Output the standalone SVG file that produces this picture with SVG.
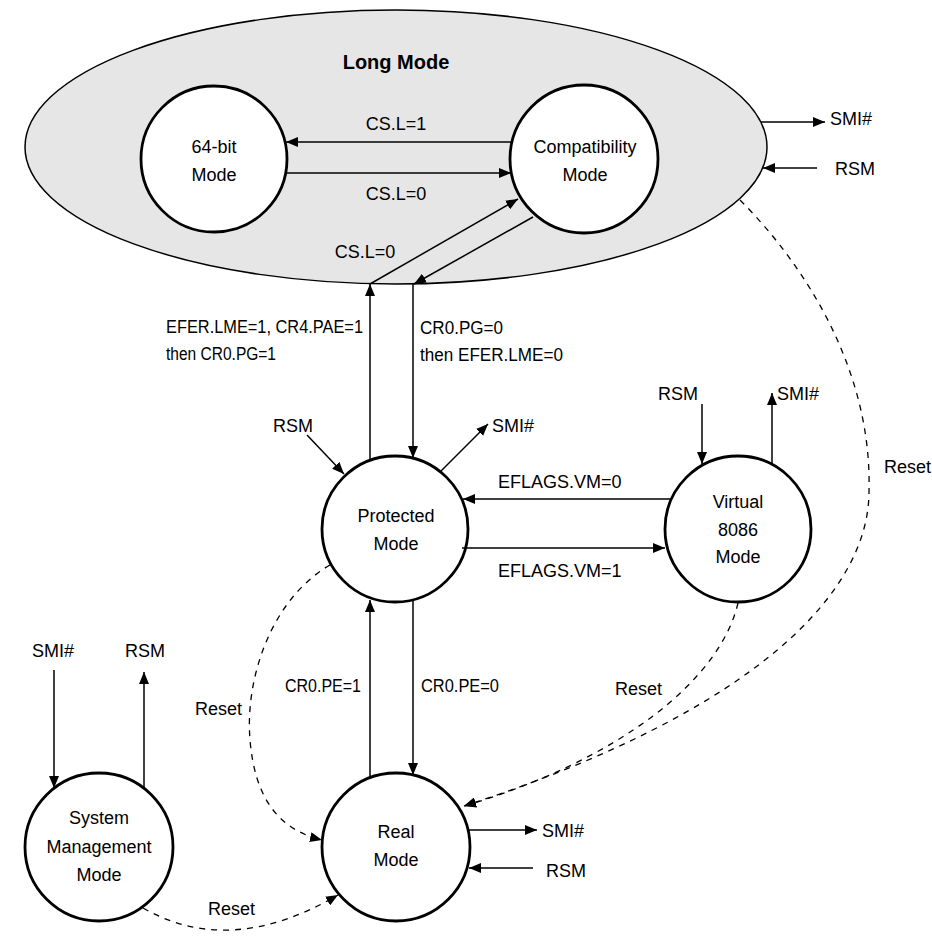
<svg xmlns="http://www.w3.org/2000/svg" width="932" height="940" viewBox="0 0 932 940">
<style>
text{font-family:"Liberation Sans",Arial,sans-serif;font-size:18px;fill:#000}
.c{text-anchor:middle}
.title{font-weight:bold;font-size:20px}
.node{fill:#fff;stroke:#000;stroke-width:2.8}
.ln{fill:none;stroke:#000;stroke-width:1.5}
.ds{fill:none;stroke:#000;stroke-width:1.3;stroke-dasharray:6 6}
</style>
<defs>
<marker id="ah" viewBox="0 0 12 10" refX="12" refY="5" markerWidth="12" markerHeight="10" markerUnits="userSpaceOnUse" orient="auto">
<path d="M0,0 L12,5 L0,10 z" fill="#000"/>
</marker>
</defs>
<rect width="932" height="940" fill="#fff"/>

<g id="long-mode">
<ellipse cx="396" cy="147" rx="371" ry="137" fill="#e6e6e6" stroke="#000" stroke-width="1.5"/>
<text class="c title" x="396" y="69">Long Mode</text>
</g>

<g id="mode-64bit">
<circle class="node" cx="214" cy="159" r="73"/>
<text class="c" x="214" y="153">64-bit</text>
<text class="c" x="214" y="181">Mode</text>
</g>

<g id="compat-mode">
<circle class="node" cx="584" cy="159" r="74"/>
<text class="c" x="585" y="153">Compatibility</text>
<text class="c" x="585" y="181">Mode</text>
</g>

<g id="protected-mode">
<circle class="node" cx="395" cy="529" r="73"/>
<text class="c" x="396" y="522">Protected</text>
<text class="c" x="396" y="550">Mode</text>
</g>

<g id="virtual-8086-mode">
<circle class="node" cx="738" cy="529" r="73"/>
<text class="c" x="738" y="508">Virtual</text>
<text class="c" x="738" y="536">8086</text>
<text class="c" x="738" y="563">Mode</text>
</g>

<g id="real-mode">
<circle class="node" cx="396" cy="847" r="74"/>
<text class="c" x="396" y="838">Real</text>
<text class="c" x="396" y="866">Mode</text>
</g>

<g id="smm">
<circle class="node" cx="99" cy="847" r="74"/>
<text class="c" x="99" y="824">System</text>
<text class="c" x="99" y="853">Management</text>
<text class="c" x="99" y="881">Mode</text>
</g>

<g id="connectors">
<line class="ln" x1="511" y1="142" x2="286" y2="142" marker-end="url(#ah)"/>
<line class="ln" x1="287" y1="173" x2="511" y2="173" marker-end="url(#ah)"/>
<line class="ln" x1="761" y1="122" x2="825" y2="122" marker-end="url(#ah)"/>
<line class="ln" x1="817" y1="168" x2="763" y2="168" marker-end="url(#ah)"/>
<line class="ln" x1="370" y1="460" x2="370" y2="284" marker-end="url(#ah)"/>
<line class="ln" x1="370" y1="284" x2="518" y2="199" marker-end="url(#ah)"/>
<line class="ln" x1="533" y1="217" x2="414" y2="284" marker-end="url(#ah)"/>
<line class="ln" x1="413" y1="284" x2="413" y2="458" marker-end="url(#ah)"/>
<line class="ln" x1="307" y1="435" x2="344" y2="474" marker-end="url(#ah)"/>
<line class="ln" x1="441" y1="471" x2="488" y2="424" marker-end="url(#ah)"/>
<line class="ln" x1="671" y1="499" x2="463" y2="499" marker-end="url(#ah)"/>
<line class="ln" x1="462" y1="548" x2="665" y2="548" marker-end="url(#ah)"/>
<line class="ln" x1="702" y1="404" x2="702" y2="464" marker-end="url(#ah)"/>
<line class="ln" x1="772" y1="464" x2="772" y2="393" marker-end="url(#ah)"/>
<line class="ln" x1="370" y1="778" x2="370" y2="600" marker-end="url(#ah)"/>
<line class="ln" x1="413" y1="600" x2="413" y2="775" marker-end="url(#ah)"/>
<line class="ln" x1="469" y1="830" x2="537" y2="830" marker-end="url(#ah)"/>
<line class="ln" x1="533" y1="868" x2="469" y2="868" marker-end="url(#ah)"/>
<line class="ln" x1="54" y1="670" x2="54" y2="788" marker-end="url(#ah)"/>
<line class="ln" x1="144" y1="788" x2="144" y2="672" marker-end="url(#ah)"/>
<path class="ds" d="M330,565 C270,600 245,680 250,740 C255,800 280,830 322,840" marker-end="url(#ah)"/>
<path class="ds" d="M143,908 Q230,958 338,895" marker-end="url(#ah)"/>
<path class="ds" d="M738,603 C720,680 620,760 464,806" marker-end="url(#ah)"/>
<path class="ds" d="M740,200 C805,265 872,370 869,490 C870,590 760,710 464,806" marker-end="url(#ah)"/>
</g>

<g id="labels">
<text class="c" x="396" y="130">CS.L=1</text>
<text class="c" x="396" y="200">CS.L=0</text>
<text class="c" x="365" y="258">CS.L=0</text>
<text x="830" y="125">SMI#</text>
<text x="835" y="175">RSM</text>
<text x="166" y="333" textLength="197" lengthAdjust="spacingAndGlyphs">EFER.LME=1, CR4.PAE=1</text>
<text x="166" y="360" textLength="110" lengthAdjust="spacingAndGlyphs">then CR0.PG=1</text>
<text x="420" y="334" textLength="83" lengthAdjust="spacingAndGlyphs">CR0.PG=0</text>
<text x="420" y="361" textLength="143" lengthAdjust="spacingAndGlyphs">then EFER.LME=0</text>
<text x="273" y="432">RSM</text>
<text x="492" y="432">SMI#</text>
<text x="658" y="400">RSM</text>
<text x="777" y="400">SMI#</text>
<text x="498" y="488">EFLAGS.VM=0</text>
<text x="498" y="577">EFLAGS.VM=1</text>
<text x="884" y="473">Reset</text>
<text x="615" y="695">Reset</text>
<text x="195" y="715">Reset</text>
<text x="208" y="915">Reset</text>
<text x="285" y="692" textLength="76" lengthAdjust="spacingAndGlyphs">CR0.PE=1</text>
<text x="421" y="692" textLength="78" lengthAdjust="spacingAndGlyphs">CR0.PE=0</text>
<text x="542" y="837">SMI#</text>
<text x="546" y="877">RSM</text>
<text x="32" y="657">SMI#</text>
<text x="125" y="657">RSM</text>
</g>
</svg>
